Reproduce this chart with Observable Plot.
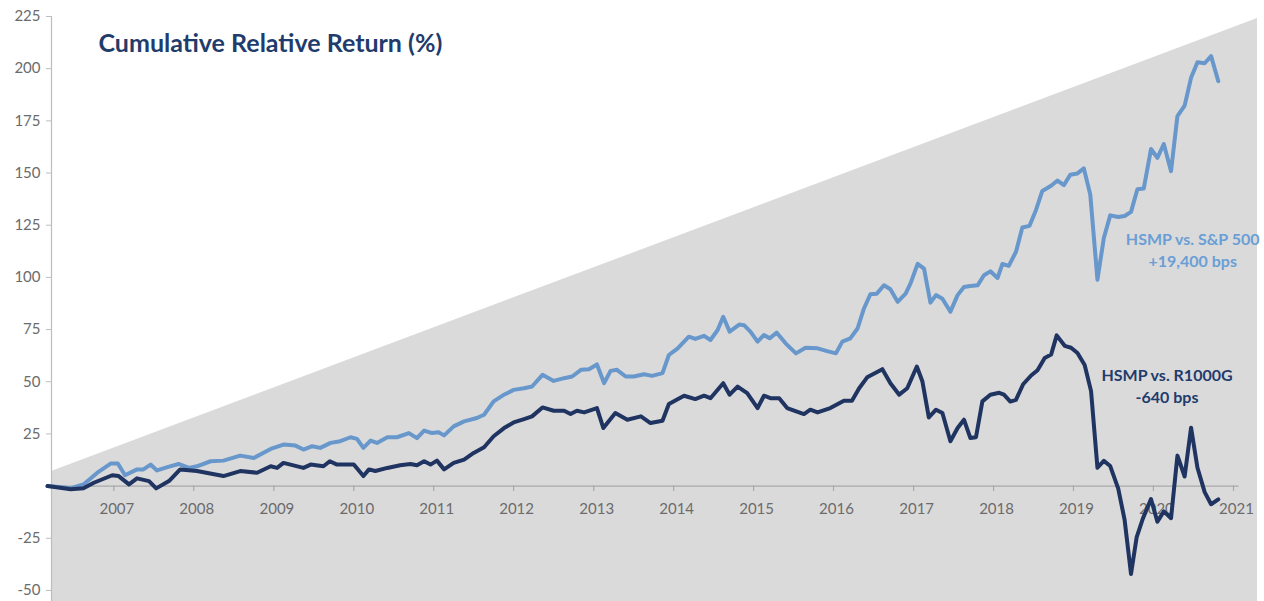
<!DOCTYPE html>
<html><head><meta charset="utf-8">
<script src="https://cdn.jsdelivr.net/npm/d3@7"></script>
<script src="https://cdn.jsdelivr.net/npm/@observablehq/plot@0.6"></script>
<style>
html,body{margin:0;padding:0;background:#fff;}
#chart{width:1264px;height:601px;}
</style></head><body><div id="chart"></div>
<script>
// HSMP vs. S&P 500 cumulative relative return (%), sampled dates as decimal years
const spYears = [2006.17,2006.35,2006.46,2006.62,2006.79,2006.96,2007.05,2007.14,2007.29,2007.37,2007.46,2007.54,2007.67,2007.81,2007.94,
2008.04,2008.21,2008.37,2008.58,2008.75,2008.96,2009.12,2009.27,2009.37,2009.48,2009.58,2009.71,2009.83,2009.96,
2010.04,2010.12,2010.21,2010.29,2010.42,2010.54,2010.69,2010.79,2010.88,2010.98,2011.06,2011.13,2011.25,2011.38,2011.54,2011.63,2011.75,2011.88,
2012.00,2012.13,2012.23,2012.36,2012.50,2012.63,2012.73,2012.84,2012.94,2013.04,2013.13,2013.21,2013.29,2013.40,2013.50,2013.63,2013.73,2013.86,2013.94,
2014.05,2014.19,2014.27,2014.38,2014.46,2014.55,2014.62,2014.70,2014.82,2014.88,2014.96,2015.05,2015.13,2015.20,2015.29,2015.40,2015.53,2015.65,2015.80,2015.92,
2016.03,2016.11,2016.21,2016.30,2016.38,2016.46,2016.54,2016.63,2016.71,2016.80,2016.90,2016.96,2017.05,2017.13,2017.21,2017.28,2017.36,2017.46,2017.55,2017.63,2017.71,2017.80,2017.88,2017.96,
2018.05,2018.11,2018.19,2018.28,2018.36,2018.45,2018.53,2018.61,2018.72,2018.80,2018.88,2018.96,2019.05,2019.13,2019.21,2019.30,2019.38,2019.46,2019.56,2019.64,2019.72,2019.80,2019.88,2019.97,
2020.05,2020.13,2020.22,2020.30,2020.39,2020.47,2020.55,2020.64,2020.72,2020.81];
const spValues = [0,-0.5,-1.0,0.8,6.3,10.8,10.8,5.2,8,8,10.3,7.5,9.1,10.6,8.7,
9.5,11.9,12.2,14.6,13.5,17.8,19.9,19.4,17.5,19.1,18.3,20.7,21.5,23.4,
22.6,18.3,21.8,20.7,23.4,23.4,25.4,23,26.6,25.4,25.8,24.3,28.6,31,32.6,34.2,40.6,43.8,
46.1,46.9,47.7,53.3,50.4,51.7,52.5,55.7,56,58.3,49.3,55.2,55.7,52.5,52.5,53.6,52.8,54.1,62.8,
66,71.6,70.5,72,70,74.8,81.1,74,77.4,77.1,74,69.2,72.4,70.8,73.5,68.4,63.6,66.3,66,64.7,
63.6,69.2,70.8,75.5,85.1,91.9,92.2,96.2,94.3,88.3,92.2,97,106.5,104.2,87.9,91.5,89.8,83.5,91.5,95.4,95.9,96.2,101,102.9,
99.7,106.4,105.5,112.2,123.9,124.7,132.2,141.4,143.9,146.4,144.2,149.2,149.8,152.2,139.7,98.9,118.9,129.7,128.9,129.4,131.4,142.2,142.6,161.5,
157.3,163.9,150.9,177.3,182.3,195.6,203.1,202.6,206,194];

// HSMP vs. Russell 1000 Growth cumulative relative return (%)
const rgYears = [2006.17,2006.46,2006.62,2006.75,2006.98,2007.06,2007.19,2007.29,2007.44,2007.53,2007.69,2007.83,
2008.04,2008.37,2008.58,2008.79,2008.96,2009.04,2009.12,2009.37,2009.46,2009.62,2009.70,2009.79,
2010.00,2010.12,2010.19,2010.27,2010.42,2010.58,2010.71,2010.79,2010.88,2010.96,2011.04,2011.13,2011.25,2011.38,2011.50,2011.63,2011.75,2011.88,
2012.00,2012.13,2012.23,2012.36,2012.50,2012.63,2012.71,2012.79,2012.88,2013.04,2013.12,2013.27,2013.42,2013.59,2013.71,2013.86,2013.94,
2014.13,2014.27,2014.38,2014.46,2014.62,2014.70,2014.80,2014.92,2015.05,2015.13,2015.21,2015.32,2015.42,2015.63,2015.71,2015.80,2015.96,
2016.13,2016.23,2016.32,2016.42,2016.61,2016.71,2016.82,2016.92,2017.04,2017.11,2017.19,2017.28,2017.36,2017.46,2017.55,2017.63,2017.71,2017.78,2017.86,2017.96,
2018.07,2018.13,2018.21,2018.28,2018.37,2018.47,2018.55,2018.64,2018.72,2018.79,2018.89,2018.97,2019.05,2019.14,2019.22,2019.30,2019.38,2019.46,2019.56,2019.64,2019.72,2019.79,2019.87,2019.97,
2020.05,2020.13,2020.22,2020.30,2020.39,2020.47,2020.55,2020.64,2020.72,2020.81];
const rgValues = [0,-1.5,-1,1.6,5.2,4.8,0.8,3.7,2.4,-1.1,2.4,8.0,
7.2,4.8,7.2,6.4,9.5,8.7,11.1,8.7,10.3,9.5,11.9,10.3,
10.3,4.8,8,7.2,8.7,10,10.6,10,11.9,10.3,12.2,8,11.1,12.7,15.9,18.6,23.9,27.8,
30.5,32.1,33.4,37.7,36.1,36.1,34.5,36.1,35.3,37.4,27.8,35,31.8,33.4,30.2,31.3,39.3,
43.3,41.7,43.3,42.1,49.3,43.8,47.7,44.5,37.4,43.3,42.1,42.1,37.4,34.5,36.6,35.3,37.4,
40.9,40.9,46.9,52.1,56,49.3,43.8,46.9,57.3,50.1,32.9,36.6,35,21.5,27.8,31.8,23,23.4,40.6,43.8,
44.7,43.8,40.5,41.3,48.8,53,55.5,61.4,63,72.2,67.2,66.3,63.8,58,45.5,8.8,12.1,9.6,-1.2,-16.2,-42.1,-24.6,-15.4,-6.2,
-17.1,-12.1,-15.4,14.6,4.6,28,8.8,-2.9,-8.7,-6.4];

const yTicks = [-50,-25,25,50,75,100,125,150,175,200,225];
const xTickYears = [2007,2008,2009,2010,2011,2012,2013,2014,2015,2016,2017,2018,2019,2020,2021];
const xDomainYears = [2006.22, 2021.30];
const yDomain = [-55.3, 225];
const axisSpanYears = [2006.22, 2021.07];
const bandYears = [2006.22, 2021.30];
const bandTop = [7, 224];
const title = "Cumulative Relative Return (%)";
const labelSeries = ["sp", "rg"];
const labelTexts = ["HSMP vs. S&P 500\n+19,400 bps", "HSMP vs. R1000G\n-640 bps"];
const labelYears = [2020.49, 2020.17];
const labelValues = [113.5, 48.5];

const colors = {sp: "#6797cb", rg: "#1f3461"};
const textColors = {sp: "#6a9fd6", rg: "#1f3c6c"};

function yd(y) {
  const yr = Math.floor(y);
  const s = Date.UTC(yr, 0, 1), e = Date.UTC(yr + 1, 0, 1);
  return new Date(s + (y - yr) * (e - s));
}

const sp = spYears.map((y, i) => ({date: yd(y), value: spValues[i]}));
const rg = rgYears.map((y, i) => ({date: yd(y), value: rgValues[i]}));
const band = bandYears.map((y, i) => ({date: yd(y), top: bandTop[i], bottom: yDomain[0]}));
const xTicks = xTickYears.map(y => yd(y));
const labels = labelTexts.map((t, i) => ({text: t, date: yd(labelYears[i]), value: labelValues[i], series: labelSeries[i]}));

const chart = Plot.plot({
  width: 1264,
  height: 601,
  marginLeft: 51,
  marginRight: 7,
  marginTop: 16,
  marginBottom: 0,
  style: {fontFamily: "Lato, 'Open Sans', sans-serif", background: "white", overflow: "visible"},
  x: {type: "utc", domain: xDomainYears.map(yd), axis: null},
  y: {domain: yDomain},
  marks: [
    Plot.areaY(band, {x: "date", y1: "bottom", y2: "top", fill: "#dbdadb"}),
    Plot.ruleX([yd(xDomainYears[0])], {y1: yDomain[0], y2: yDomain[1], stroke: "#bdbdbd", strokeWidth: 1.2}),
    Plot.axisY({ticks: yTicks, tickSize: 5, tickPadding: 6, fontSize: 15, color: "#6b6b6b", stroke: "#bdbdbd", tickFormat: d => String(d)}),
    Plot.ruleY([0], {x1: yd(axisSpanYears[0]), x2: yd(axisSpanYears[1]), stroke: "#a8a8a8", strokeWidth: 1.2}),
    Plot.ruleX(xTicks, {x: d => d, y1: 0, y2: -2.6, stroke: "#a8a8a8", strokeWidth: 1.2}),
    Plot.text(xTicks, {x: d => d, y: 0, dy: 23, dx: 3, text: d => String(d.getUTCFullYear()), fontSize: 15, fill: "#6b6b6b"}),
    Plot.line(sp, {x: "date", y: "value", stroke: colors.sp, strokeWidth: 4, strokeLinejoin: "round", strokeLinecap: "round"}),
    Plot.line(rg, {x: "date", y: "value", stroke: colors.rg, strokeWidth: 4, strokeLinejoin: "round", strokeLinecap: "round"}),
    Plot.text(labels, {x: "date", y: "value", text: "text", fill: d => textColors[d.series], fontSize: 16, fontWeight: "bold", lineHeight: 1.35, textAnchor: "middle"}),
    Plot.text([title], {frameAnchor: "top-left", dx: 47, dy: 18, fontSize: 25, fontWeight: "bold", fill: "#1f3c6c", textAnchor: "start"})
  ]
});
document.getElementById("chart").appendChild(chart);
</script></body></html>
